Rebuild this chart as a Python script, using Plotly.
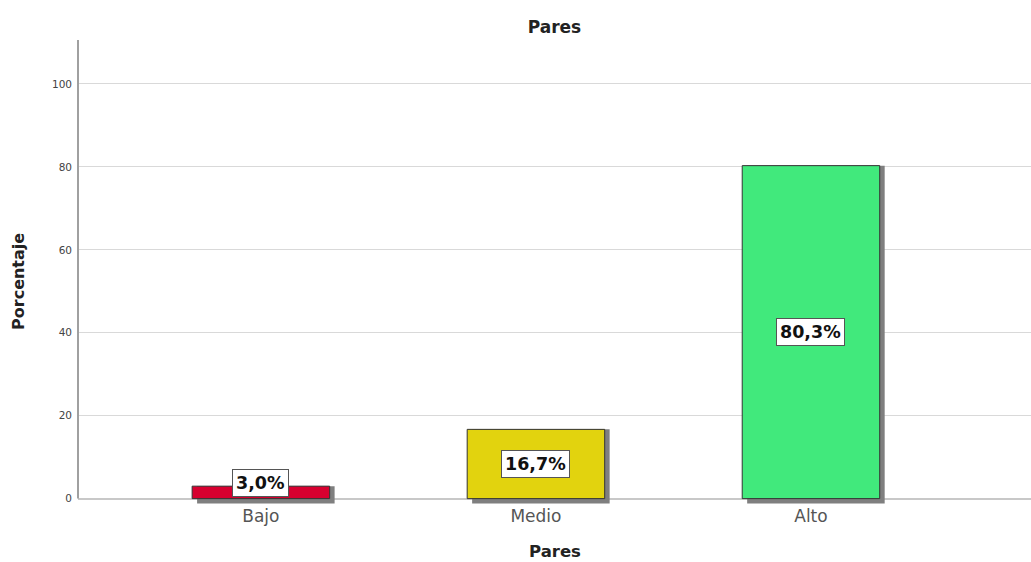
import plotly.graph_objects as go

categories = ["Bajo", "Medio", "Alto"]
values = [3.0, 16.7, 80.3]
labels = ["3,0%", "16,7%", "80,3%"]
colors = ["#D7002F", "#E2D30E", "#41E97C"]
y_ticks = [0, 20, 40, 60, 80, 100]

Y_MIN, Y_MAX = -1.3, 110.6
SHADOW_DROP = 1.2
FONT = "DejaVu Sans, Verdana, sans-serif"

fig = go.Figure()

# drop shadow behind each bar
fig.add_trace(go.Bar(
    x=categories, y=[v + SHADOW_DROP for v in values], base=-SHADOW_DROP,
    width=0.5, offset=-0.232,
    marker=dict(color="#7f7f7f", line=dict(width=0)),
    hoverinfo="skip", showlegend=False,
))
# bars
fig.add_trace(go.Bar(
    x=categories, y=values, width=0.5, offset=-0.25,
    marker=dict(color=colors, line=dict(color="#333333", width=1)),
    showlegend=False,
))

for c, v, t in zip(categories, values, labels):
    fig.add_annotation(
        x=c, y=max(v / 2, 3.85), text="<b>" + t + "</b>", showarrow=False,
        font=dict(family=FONT, size=17.5, color="#111111"),
        bgcolor="white", bordercolor="#555555", borderwidth=1, borderpad=3,
        xanchor="center", yanchor="middle",
    )

# y axis line from 0 to top
fig.add_shape(type="line", xref="paper", yref="y", x0=0, x1=0, y0=0, y1=Y_MAX,
              line=dict(color="#a0a0a0", width=2))

# axis titles
fig.add_annotation(text="<b>Pares</b>", xref="paper", yref="paper", x=0.5, y=-0.1034,
                   showarrow=False, xanchor="center", yanchor="middle",
                   font=dict(family=FONT, size=16.5, color="#222222"))
fig.add_annotation(text="<b>Porcentaje</b>", xref="paper", yref="paper", x=-0.063, y=0.4806,
                   textangle=-90, showarrow=False, xanchor="center", yanchor="middle",
                   font=dict(family=FONT, size=16, color="#222222"))

fig.update_layout(
    width=1031, height=562,
    margin=dict(l=78, r=0, t=40, b=58),
    plot_bgcolor="white", paper_bgcolor="white",
    barmode="overlay",
    title=dict(text="<b>Pares</b>", x=0.5, xanchor="center", y=0.952, yanchor="middle",
               xref="paper",
               font=dict(family=FONT, size=17, color="#222222")),
    font=dict(family=FONT),
    xaxis=dict(
        range=[-0.665, 2.8], showgrid=False, zeroline=False,
        showline=False, ticks="",
        tickfont=dict(family=FONT, size=17, color="#555555"),
    ),
    yaxis=dict(
        range=[Y_MIN, Y_MAX], tickvals=y_ticks, showgrid=True, gridcolor="#d9d9d9", gridwidth=1.3,
        zeroline=True, zerolinecolor="#c8c8c8", zerolinewidth=2,
        showline=False,
        ticks="", ticklabelstandoff=5,
        tickfont=dict(family=FONT, size=10.5, color="#444444"),
    ),
)

fig.write_html(
    "out.html",
    config={"displayModeBar": False},
    post_script="document.body.style.margin='0';document.body.style.overflow='hidden';",
)
